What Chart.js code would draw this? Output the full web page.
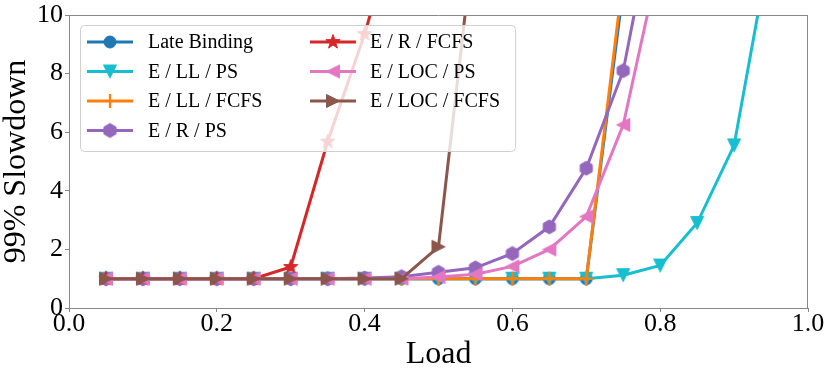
<!DOCTYPE html>
<html><head><meta charset="utf-8">
<script src="https://cdn.jsdelivr.net/npm/chart.js@4.4.0/dist/chart.umd.min.js"></script>
<style>html,body{margin:0;padding:0;background:#fff;}</style>
</head><body>
<canvas id="c" width="831" height="375" style="width:831px;height:375px;display:block"></canvas>
<script>
// ---- data ----
const loads = [0.05,0.10,0.15,0.20,0.25,0.30,0.35,0.40,0.45,0.50,0.55,0.60,0.65,0.70,0.75,0.80,0.85,0.90,0.95];
const seriesNames = ['Late Binding','E / LL / PS','E / LL / FCFS','E / R / PS','E / R / FCFS','E / LOC / PS','E / LOC / FCFS'];
const lateBinding = [1,1,1,1,1,1,1,1,1,1,1,1,1,1,10.9];
const llPS        = [1,1,1,1,1,1,1,1,1,1,1,1,1,1,1.12,1.45,2.9,5.55,12.5];
const llFCFS      = [1,1,1,1,1,1,1,1,1,1,1,1,1,1,11.3];
const rPS         = [1,1,1,1,1,1,1,1.02,1.07,1.22,1.37,1.86,2.77,4.77,8.1,14.6];
const rFCFS       = [1,1,1,1,1,1.4,5.68,9.35,13.7];
const locPS       = [1,1,1,1,1,1,1,1,1,1.06,1.15,1.42,2.0,3.12,6.25,12.0];
const locFCFS     = [1,1,1,1,1,1,1,1,1,2.09,13.1];
const xTicks = [0.0,0.2,0.4,0.6,0.8,1.0];
const yTicks = [0,2,4,6,8,10];

const seriesValues = [lateBinding,llPS,llFCFS,rPS,rFCFS,locPS,locFCFS];
const colors = ['#1f77b4','#17becf','#ff7f0e','#9467bd','#d62728','#e377c2','#8c564b'];
const shapes = ['circle','tdown','plus','hexagon','star','tleft','tright'];

function makeMarker(shape, color){
  const s = 20;
  const c = document.createElement('canvas'); c.width = s; c.height = s;
  const g = c.getContext('2d');
  g.translate(s/2, s/2);
  g.fillStyle = color; g.strokeStyle = color; g.lineWidth = 1; g.lineJoin='miter';
  g.beginPath();
  if (shape === 'circle') { g.arc(0,0,6,0,Math.PI*2); }
  else if (shape === 'tdown') { const r=6.5; g.moveTo(-r,-r); g.lineTo(r,-r); g.lineTo(0,r); g.closePath(); }
  else if (shape === 'tleft') { const r=6.5; g.moveTo(r,-r); g.lineTo(r,r); g.lineTo(-r,0); g.closePath(); }
  else if (shape === 'tright') { const r=6.5; g.moveTo(-r,-r); g.lineTo(-r,r); g.lineTo(r,0); g.closePath(); }
  else if (shape === 'hexagon') { const r=7; for(let k=0;k<6;k++){const a=-Math.PI/2+k*Math.PI/3; const px=r*Math.cos(a), py=r*Math.sin(a); if(k===0) g.moveTo(px,py); else g.lineTo(px,py);} g.closePath(); }
  else if (shape === 'star') { const R=7.5, ri=R*0.4; for(let k=0;k<10;k++){const a=-Math.PI/2+k*Math.PI/5; const rr=k%2?ri:R; const px=rr*Math.cos(a), py=rr*Math.sin(a); if(k===0) g.moveTo(px,py); else g.lineTo(px,py);} g.closePath(); }
  if (shape === 'plus') {
    g.lineWidth = 2.2; g.moveTo(-7,0); g.lineTo(7,0); g.moveTo(0,-7); g.lineTo(0,7); g.stroke();
  } else { g.fill(); g.stroke(); }
  return c;
}
const markers = shapes.map((sh,i)=>makeMarker(sh, colors[i]));

const datasets = seriesNames.map((name,i)=>({
  label: name,
  data: seriesValues[i].map((v,j)=>({x: loads[j], y: v})),
  borderColor: colors[i],
  backgroundColor: colors[i],
  borderWidth: 3,
  pointStyle: markers[i],
  pointRadius: 6,
  pointHoverRadius: 6,
  tension: 0,
  clip: 0,
  order: seriesNames.length - i
}));

const FONT = "'Liberation Serif','Times New Roman',serif";

const legendPlugin = {
  id: 'customLegend',
  afterDatasetsDraw(chart){
    const ctx = chart.ctx;
    ctx.save();
    const bx=80.5, by=25.5, bw=435, bh=126, rad=4;
    ctx.beginPath();
    ctx.moveTo(bx+rad,by); ctx.lineTo(bx+bw-rad,by); ctx.arcTo(bx+bw,by,bx+bw,by+rad,rad);
    ctx.lineTo(bx+bw,by+bh-rad); ctx.arcTo(bx+bw,by+bh,bx+bw-rad,by+bh,rad);
    ctx.lineTo(bx+rad,by+bh); ctx.arcTo(bx,by+bh,bx,by+bh-rad,rad);
    ctx.lineTo(bx,by+rad); ctx.arcTo(bx,by,bx+rad,by,rad); ctx.closePath();
    ctx.fillStyle='rgba(255,255,255,0.8)'; ctx.fill();
    ctx.strokeStyle='#d0d0d0'; ctx.lineWidth=1; ctx.stroke();
    const cols = [{x0:87,x1:133,tx:148},{x0:310,x1:356,tx:370}];
    const rows = [42,71.5,101,130.5];
    seriesNames.forEach((name,i)=>{
      const col = cols[i<4?0:1], y = rows[i<4?i:i-4];
      ctx.beginPath(); ctx.strokeStyle=colors[i]; ctx.lineWidth=3; ctx.lineCap='butt';
      ctx.moveTo(col.x0,y); ctx.lineTo(col.x1,y); ctx.stroke();
      const m = markers[i]; const cx=(col.x0+col.x1)/2;
      ctx.drawImage(m, cx-m.width/2, y-m.height/2);
      ctx.fillStyle='#000'; ctx.font="20px "+FONT; ctx.textBaseline='middle'; ctx.textAlign='left';
      ctx.fillText(name, col.tx, y+1);
    });
    ctx.restore();
  }
};

new Chart(document.getElementById('c'), {
  type: 'line',
  data: { datasets },
  options: {
    responsive: false,
    animation: false,
    events: [],
    layout: { padding: { left: 0, right: 23, top: 15, bottom: 0 } },
    plugins: { legend: { display: false }, tooltip: { enabled: false } },
    scales: {
      x: {
        type: 'linear', min: 0, max: 1,
        afterFit: s => { s.height = 67; },
        afterBuildTicks: s => { s.ticks = xTicks.map(v=>({value:v})); },
        grid: { drawOnChartArea: false, drawTicks: true, tickLength: 4, color: '#888', tickColor: '#888' },
        border: { display: true, color: '#888', width: 1 },
        ticks: { color: '#000', font: { family: FONT, size: 26, lineHeight: 1 }, padding: -1, maxRotation: 0, autoSkip: false, callback: v => Number(v).toFixed(1) },
        title: { display: true, text: 'Load', color: '#000', font: { family: FONT, size: 32, lineHeight: 1.2 }, padding: { top: 0, bottom: 1 } }
      },
      y: {
        type: 'linear', min: 0, max: 10,
        afterFit: s => { s.width = 69; },
        afterBuildTicks: s => { s.ticks = yTicks.map(v=>({value:v})); },
        grid: { drawOnChartArea: false, drawTicks: true, tickLength: 4, color: '#888', tickColor: '#888' },
        border: { display: true, color: '#888', width: 1 },
        ticks: { color: '#000', font: { family: FONT, size: 26, lineHeight: 1 }, padding: 2, autoSkip: false, callback: v => String(v) },
        title: { display: true, text: '99% Slowdown', color: '#000', font: { family: FONT, size: 32, lineHeight: 1 }, padding: { top: 1, bottom: 0 } }
      }
    }
  },
  plugins: [legendPlugin, {
    id: 'frame',
    afterDatasetsDraw(chart){
      const {left,right,top,bottom} = chart.chartArea; const ctx=chart.ctx;
      ctx.save(); ctx.strokeStyle='#888'; ctx.lineWidth=1;
      ctx.beginPath(); ctx.moveTo(left,top+0.5); ctx.lineTo(right,top+0.5);
      ctx.moveTo(right-0.5,top); ctx.lineTo(right-0.5,bottom); ctx.stroke(); ctx.restore();
    }
  }]
});
</script>
</body></html>
